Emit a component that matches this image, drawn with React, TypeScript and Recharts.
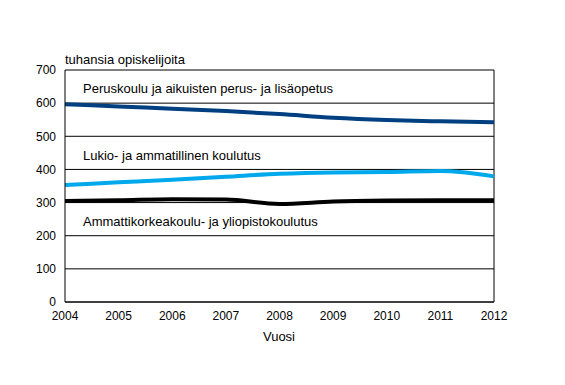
import React from "react";
import { LineChart, Line, XAxis, YAxis, CartesianGrid, ReferenceLine, Customized } from "recharts";

const years = [2004, 2005, 2006, 2007, 2008, 2009, 2010, 2011, 2012];
const perusopetus = [597, 590, 583, 576, 567, 556, 549, 545, 542];
const lukioAmmatillinen = [353, 361, 369, 378, 387, 391, 392, 395, 379];
const korkeakoulu = [305, 307, 310, 309, 296, 303, 306, 307, 307];
const yTicks = [0, 100, 200, 300, 400, 500, 600, 700];

const data = years.map((y, i) => ({
  year: y,
  perus: perusopetus[i],
  lukio: lukioAmmatillinen[i],
  korkea: korkeakoulu[i],
}));

const FONT = "'Liberation Sans', Arial, sans-serif";

const Annotations = () => (
  <g fontFamily={FONT} fontSize={13} fill="#000">
    <text x={65} y={64}>tuhansia opiskelijoita</text>
    <text x={83} y={93}>Peruskoulu ja aikuisten perus- ja lisäopetus</text>
    <text x={83} y={160}>Lukio- ja ammatillinen koulutus</text>
    <text x={83} y={226}>Ammattikorkeakoulu- ja yliopistokoulutus</text>
    <text x={279} y={341} textAnchor="middle">Vuosi</text>
  </g>
);

export default function App() {
  return (
    <div style={{ marginLeft: -8, marginTop: -8, width: 565, height: 385, background: "#fff" }}>
      <LineChart
        width={565}
        height={385}
        data={data}
        margin={{ top: 70, right: 71, left: 0, bottom: 53 }}
      >
        <CartesianGrid horizontal={true} vertical={false} stroke="#000" strokeWidth={1} />
        <XAxis
          dataKey="year"
          type="number"
          domain={[2004, 2012]}
          ticks={years}
          height={30}
          tickLine={false}
          tickSize={0}
          tickMargin={9}
          axisLine={{ stroke: "#000" }}
          tick={{ fill: "#000", fontSize: 12, fontFamily: FONT }}
          interval={0}
        />
        <YAxis
          type="number"
          domain={[0, 700]}
          ticks={yTicks}
          width={65}
          tickLine={false}
          tickSize={0}
          tickMargin={9}
          axisLine={{ stroke: "#000" }}
          tick={{ fill: "#000", fontSize: 12, fontFamily: FONT }}
          interval={0}
        />
        <ReferenceLine x={2012} stroke="#000" strokeWidth={1} />
        <Line type="monotone" dataKey="perus" stroke="#004080" strokeWidth={4} dot={false} isAnimationActive={false} />
        <Line type="monotone" dataKey="lukio" stroke="#00a8ec" strokeWidth={4} dot={false} isAnimationActive={false} />
        <Line type="monotone" dataKey="korkea" stroke="#000000" strokeWidth={4} dot={false} isAnimationActive={false} />
        <Customized component={Annotations} />
      </LineChart>
    </div>
  );
}
